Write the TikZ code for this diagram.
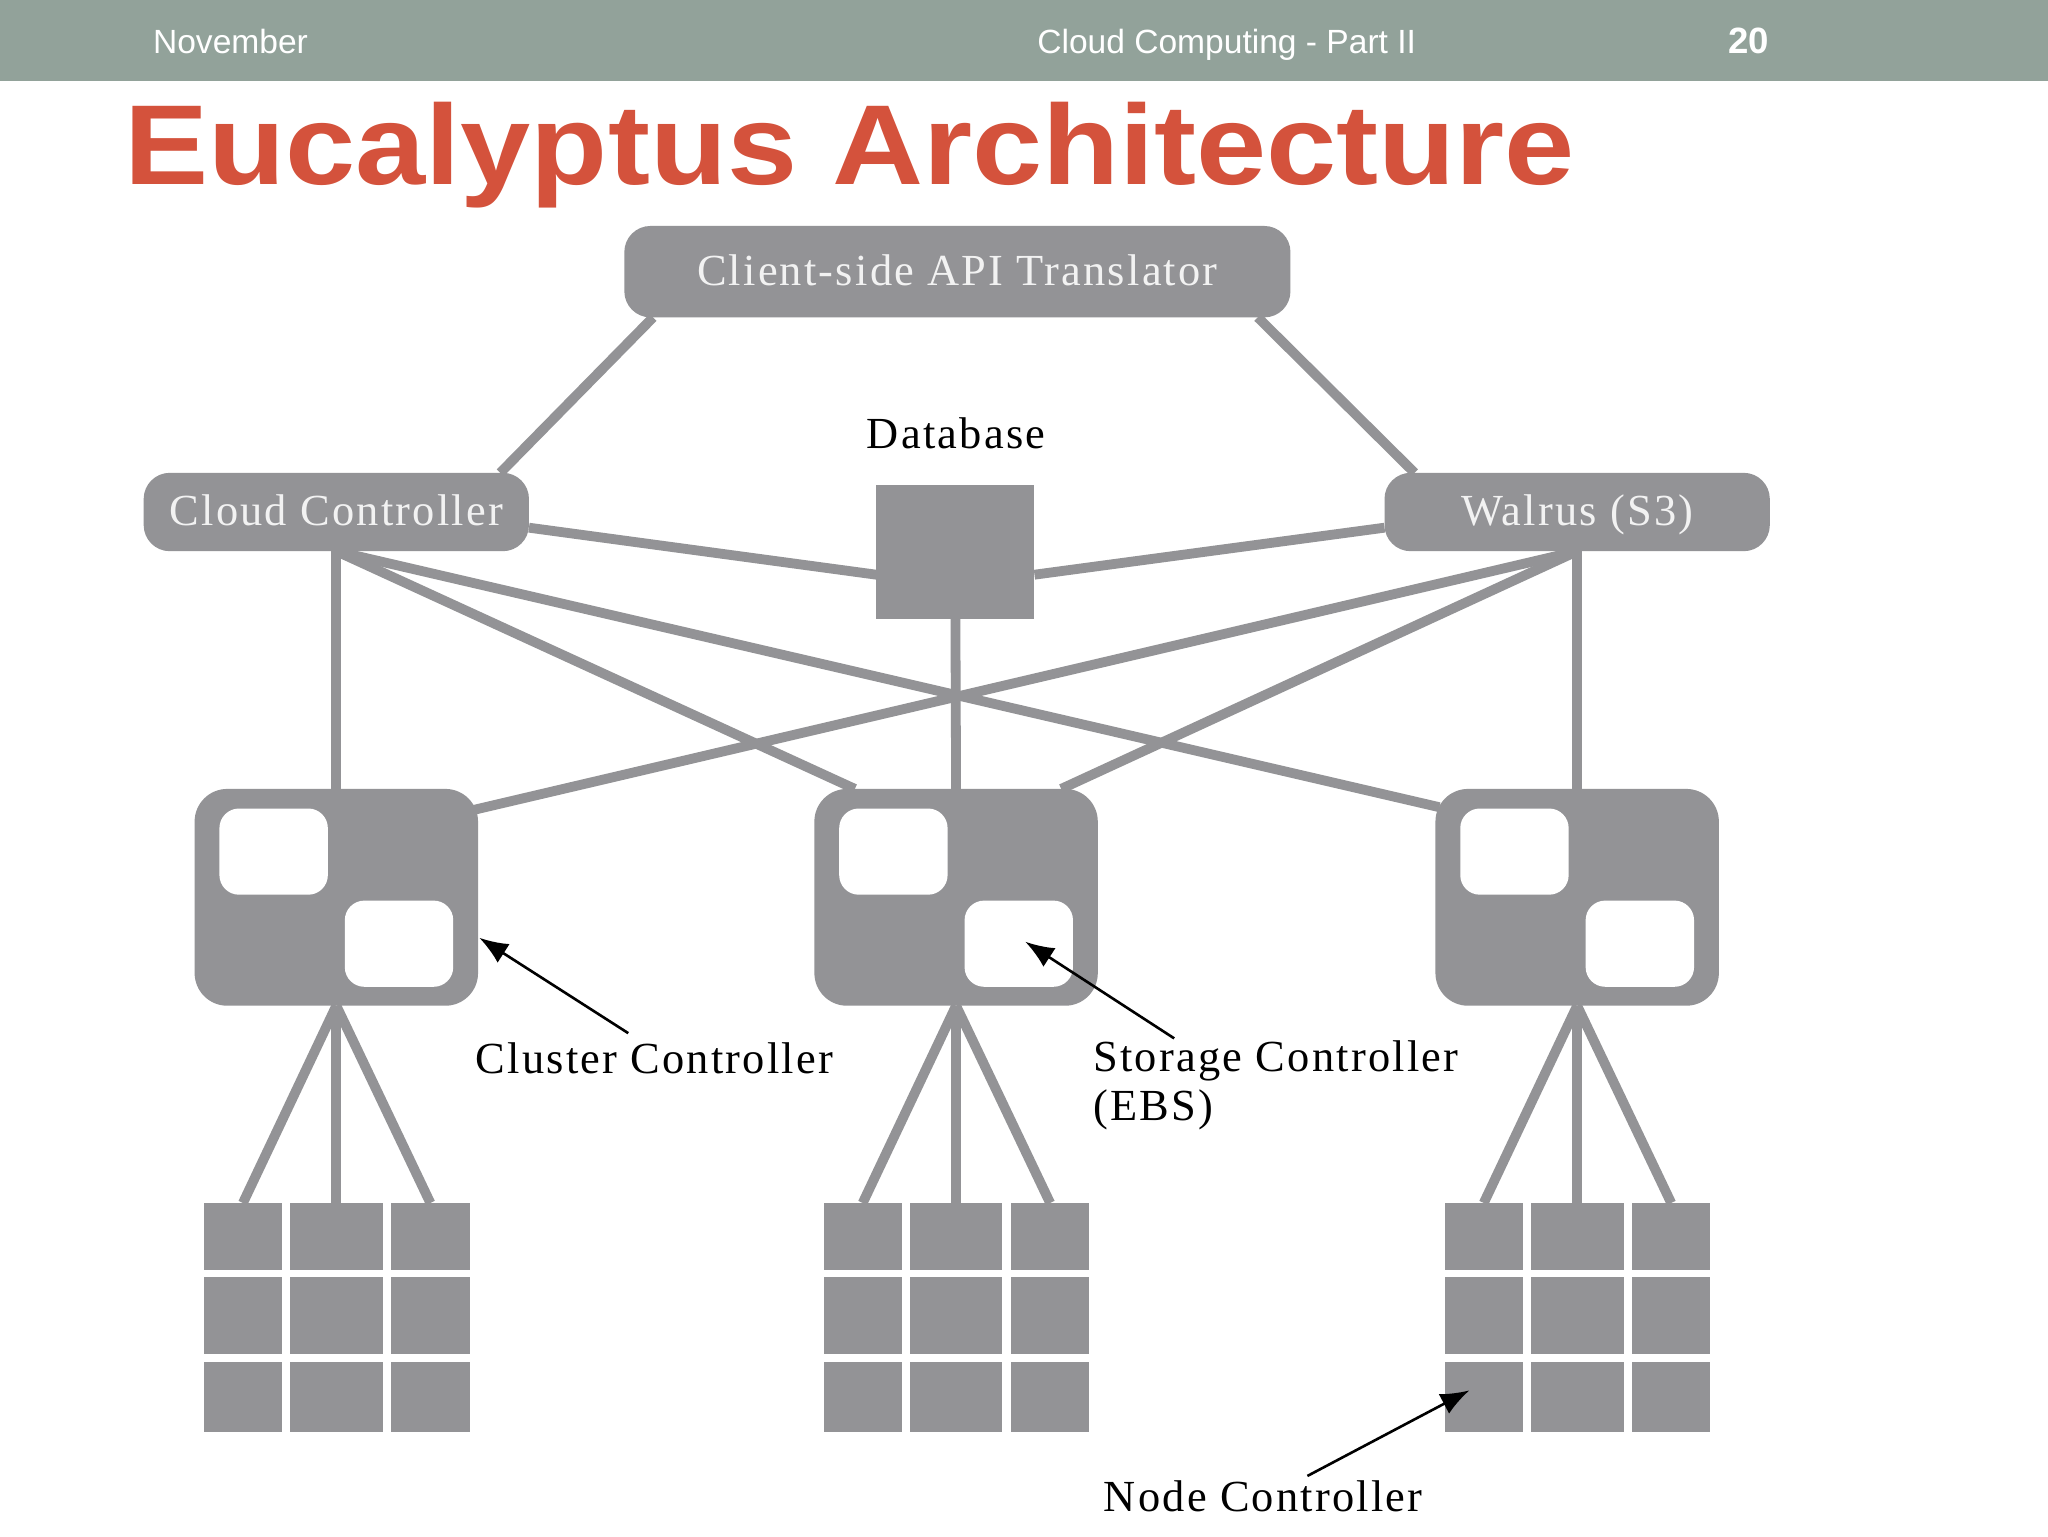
\documentclass[tikz,border=0pt]{standalone}
\usepackage{graphicx}
\usepackage{fontspec}
\setmainfont{Liberation Serif}
\newfontfamily\hdrfont{Liberation Sans}
\newfontfamily\lblfont[LetterSpace=5]{Liberation Serif}
\usetikzlibrary{arrows.meta,calc}
\definecolor{hdr}{RGB}{146,162,154}
\definecolor{boxgray}{RGB}{147,147,150}
\definecolor{titlered}{RGB}{212,82,60}
\definecolor{boxtext}{RGB}{242,242,242}
\begin{document}
\begin{tikzpicture}[x=1pt,y=-1pt,
  gbox/.style={fill=boxgray, draw=none, rounded corners=20pt, inner sep=0pt, outer sep=0pt,
    text=boxtext, font=\lblfont\fontsize{34}{40}\selectfont, text height=28pt, text depth=7pt},
  dbbox/.style={fill=boxgray, draw=none, inner sep=0pt, outer sep=0pt, minimum width=121pt, minimum height=103pt},
  cluster/.style={fill=boxgray, draw=none, rounded corners=25pt, inner sep=0pt, outer sep=0pt,
    minimum width=217pt, minimum height=166pt},
  inbox/.style={fill=white, draw=none, rounded corners=15pt, inner sep=0pt, outer sep=0pt,
    minimum width=83pt, minimum height=66pt},
  cell/.style={fill=boxgray, draw=none, inner sep=0pt, outer sep=0pt},
  conn/.style={draw=boxgray, line width=7.5pt},
  pointer/.style={draw=black, line width=2pt, -{Latex[length=22pt,width=17pt]}},
  lbl/.style={font=\lblfont\fontsize{34}{40}\selectfont, text=black, inner sep=0pt, anchor=base west},
  hdrtxt/.style={font=\hdrfont\fontsize{25.7}{30}\selectfont, text=white, inner sep=0pt, anchor=base west}
]
\useasboundingbox (0,0) rectangle (1568,1176);
\fill[white] (0,0) rectangle (1568,1176);
% header bar
\fill[hdr] (0,0) rectangle (1568,62);
\node[hdrtxt] (month) at (117,41) {November};
\node[hdrtxt] (course) at (794,41) {Cloud Computing - Part II};
\node[hdrtxt, font=\hdrfont\bfseries\fontsize{28}{32}\selectfont] (page) at (1323,41) {20};
% title
\node[anchor=base west, inner sep=0pt, text=titlered, font=\hdrfont\bfseries\fontsize{87}{100}\selectfont] (title) at (95,141) {\scalebox{1.11}[1]{Eucalyptus Architecture}};

% top-level nodes
\node[gbox, minimum width=510pt, minimum height=70pt] (capi) at (733,208) {Client-side API Translator};
\node[gbox, minimum width=295pt, minimum height=60pt] (cc) at (257.5,392) {Cloud Controller};
\node[gbox, minimum width=295pt, minimum height=60pt] (walrus) at (1207.5,392) {Walrus (S3)};
\node[dbbox] (db) at (731.5,422.5) {};
\node[lbl, anchor=base] (dblbl) at (732,343) {Database};

% clusters and node grids
\foreach \k/\cx in {1/257.5, 2/732, 3/1207.5} {
  \node[cluster] (cl\k) at (\cx,687) {};
  \node[inbox] (cl\k-a) at (\cx-48,652) {};
  \node[inbox] (cl\k-b) at (\cx+48,722.5) {};
  \foreach \r/\ry/\rh in {1/946.5/51, 2/1007.5/59, 3/1069.5/53} {
    \node[cell, minimum width=60pt, minimum height=\rh pt] (n\k-\r-1) at (\cx-71.5,\ry) {};
    \node[cell, minimum width=71pt, minimum height=\rh pt] (n\k-\r-2) at (\cx,\ry) {};
    \node[cell, minimum width=60pt, minimum height=\rh pt] (n\k-\r-3) at (\cx+72,\ry) {};
  }
  \foreach \c in {1,2,3} \draw[conn] (cl\k.south) -- (n\k-1-\c.north);
}

% connectors
\draw[conn] ($(capi.south west)+(22,0)$) -- ($(cc.north east)+(-22,0)$);
\draw[conn] ($(capi.south east)+(-25,0)$) -- ($(walrus.north west)+(23,0)$);
\draw[conn] ($(cc.east)+(0,12)$) -- ($(db.west)+(0,17.5)$);
\draw[conn] ($(db.east)+(0,17.5)$) -- ($(walrus.west)+(0,12)$);
\draw[conn] (cc.south) -- (cl1.north);
\draw[conn] (cc.south) -- ($(cl2.north west)+(31,0)$);
\draw[conn] (cc.south) -- ($(cl3.north west)+(3,14)$);
\draw[conn] (walrus.south) -- (cl3.north);
\draw[conn] (walrus.south) -- ($(cl2.north east)+(-28,0)$);
\draw[conn] (walrus.south) -- ($(cl1.north east)+(-3,16)$);
\draw[conn] (db.south) -- (cl2.north);

% labels and pointers
\node[lbl] (cclbl) at (364,822) {Cluster Controller};
\coordinate (cctail) at (481,791);
\draw[pointer] (cctail) -- ($(cl1.east)+(1,31)$);

\node[lbl] (sclbl) at (837,820.5) {Storage Controller};
\node[lbl] (ebslbl) at (837,857.5) {(EBS)};
\coordinate (sctail) at (899,795);
\draw[pointer] (sctail) -- ($(cl2-b.center)+(5,-1.5)$);

\node[lbl] (nclbl) at (845,1157.5) {Node Controller};
\coordinate (nctail) at (1001,1130);
\draw[pointer] (nctail) -- ($(n3-3-1.center)+(-11,-5)$);
\end{tikzpicture}
\end{document}
